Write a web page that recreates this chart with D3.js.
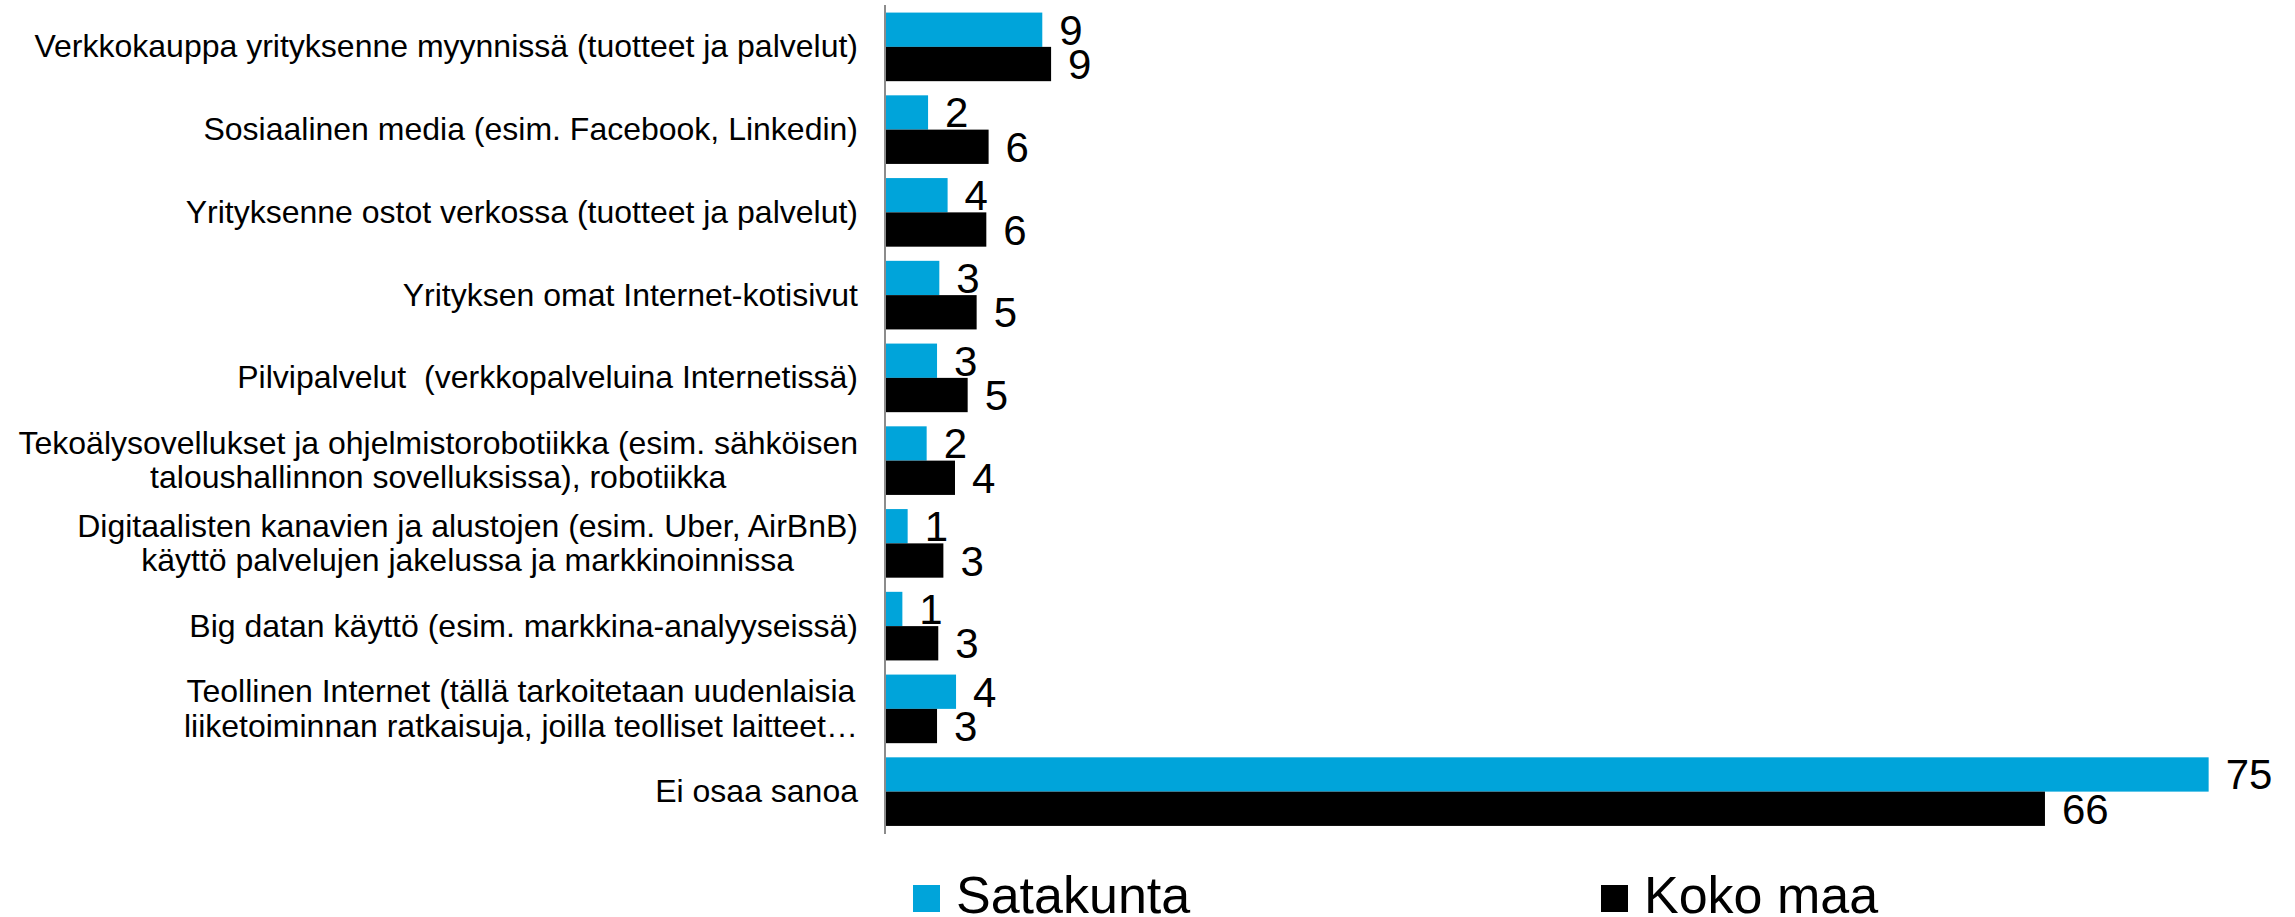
<!DOCTYPE html>
<html>
<head>
<meta charset="utf-8">
<script src="https://cdn.jsdelivr.net/npm/d3@7"></script>
<style>
  html, body { margin: 0; padding: 0; background: #fff; }
  svg { display: block; font-family: "Liberation Sans", Arial, sans-serif; }
</style>
</head>
<body>
<svg id="chart" width="2295" height="917"></svg>
<script>
// categories, "\n" = line break as in the original
var categories = [
    "Verkkokauppa yrityksenne myynnissä (tuotteet ja palvelut)",
    "Sosiaalinen media (esim. Facebook, Linkedin)",
    "Yrityksenne ostot verkossa (tuotteet ja palvelut)",
    "Yrityksen omat Internet-kotisivut",
    "Pilvipalvelut  (verkkopalveluina Internetissä)",
    "Tekoälysovellukset ja ohjelmistorobotiikka (esim. sähköisen\ntaloushallinnon sovelluksissa), robotiikka",
    "Digitaalisten kanavien ja alustojen (esim. Uber, AirBnB)\nkäyttö palvelujen jakelussa ja markkinoinnissa",
    "Big datan käyttö (esim. markkina-analyyseissä)",
    "Teollinen Internet (tällä tarkoitetaan uudenlaisia\nliiketoiminnan ratkaisuja, joilla teolliset laitteet…",
    "Ei osaa sanoa"
];
var satakunta = [8.88, 2.39, 3.5, 3.03, 2.9, 2.31, 1.23, 0.93, 3.98, 75.15];
var kokoMaa = [9.38, 5.83, 5.7, 5.15, 4.64, 3.92, 3.26, 2.97, 2.9, 65.85];
var seriesNames = ["Satakunta", "Koko maa"];
var seriesColors = ["#00a4da", "#000000"];

var svg = d3.select("#chart");

var x = d3.scaleLinear()
    .domain([0, 80])
    .range([886, 2294]);

var y = d3.scaleBand()
    .domain(d3.range(categories.length))
    .range([5.5, 833])
    .paddingInner(0.171)
    .paddingOuter(0.0855);

var ySub = d3.scaleBand()
    .domain([0, 1])
    .range([0, y.bandwidth()]);

var data = [];
for (var i = 0; i < categories.length; i++) {
    data.push({cat: i, s: 0, value: satakunta[i]});
    data.push({cat: i, s: 1, value: kokoMaa[i]});
}

// bars
svg.append("g").selectAll("rect")
    .data(data)
    .enter()
    .append("rect")
    .attr("x", x(0))
    .attr("y", function (d) { return y(d.cat) + ySub(d.s); })
    .attr("width", function (d) { return x(d.value) - x(0); })
    .attr("height", ySub.bandwidth())
    .attr("fill", function (d) { return seriesColors[d.s]; });

// value labels
svg.append("g").selectAll("text")
    .data(data)
    .enter()
    .append("text")
    .attr("x", function (d) { return x(d.value) + 17; })
    .attr("y", function (d) { return y(d.cat) + ySub(d.s) + ySub.bandwidth() / 2 + 15; })
    .style("font-size", "42px")
    .attr("fill", "#000")
    .text(function (d) { return Math.round(d.value); });

// axis line
svg.append("line")
    .attr("x1", 885).attr("x2", 885)
    .attr("y1", 5).attr("y2", 834)
    .attr("stroke", "#8c8c8c")
    .attr("stroke-width", 2);

// category labels: block right aligned, lines centered inside block
var labelRight = 858;
var lineH = 34.7;
categories.forEach(function (c, i) {
    var lines = c.split("\n");
    var cy = y(i) + y.bandwidth() / 2;
    var g = svg.append("g");
    var texts = lines.map(function (ln, j) {
        return g.append("text")
            .attr("y", cy + 10.5 + (j - (lines.length - 1) / 2) * lineH)
            .style("font-size", "32px")
            .style("white-space", "pre")
            .attr("fill", "#000")
            .text(ln);
    });
    var maxW = d3.max(texts, function (t) { return t.node().getComputedTextLength(); });
    texts.forEach(function (t) {
        if (lines.length == 1) {
            t.attr("x", labelRight).attr("text-anchor", "end");
        } else {
            t.attr("x", labelRight - maxW / 2).attr("text-anchor", "middle");
        }
    });
});

// legend
var legendX = [913, 1601];
var legend = svg.append("g").selectAll("g")
    .data(seriesNames)
    .enter()
    .append("g");
legend.append("rect")
    .attr("x", function (d, i) { return legendX[i]; })
    .attr("y", 885)
    .attr("width", 27)
    .attr("height", 27)
    .attr("fill", function (d, i) { return seriesColors[i]; });
legend.append("text")
    .attr("x", function (d, i) { return legendX[i] + 43; })
    .attr("y", 912.5)
    .style("font-size", "52px")
    .attr("fill", "#000")
    .text(function (d) { return d; });
</script>
</body>
</html>
